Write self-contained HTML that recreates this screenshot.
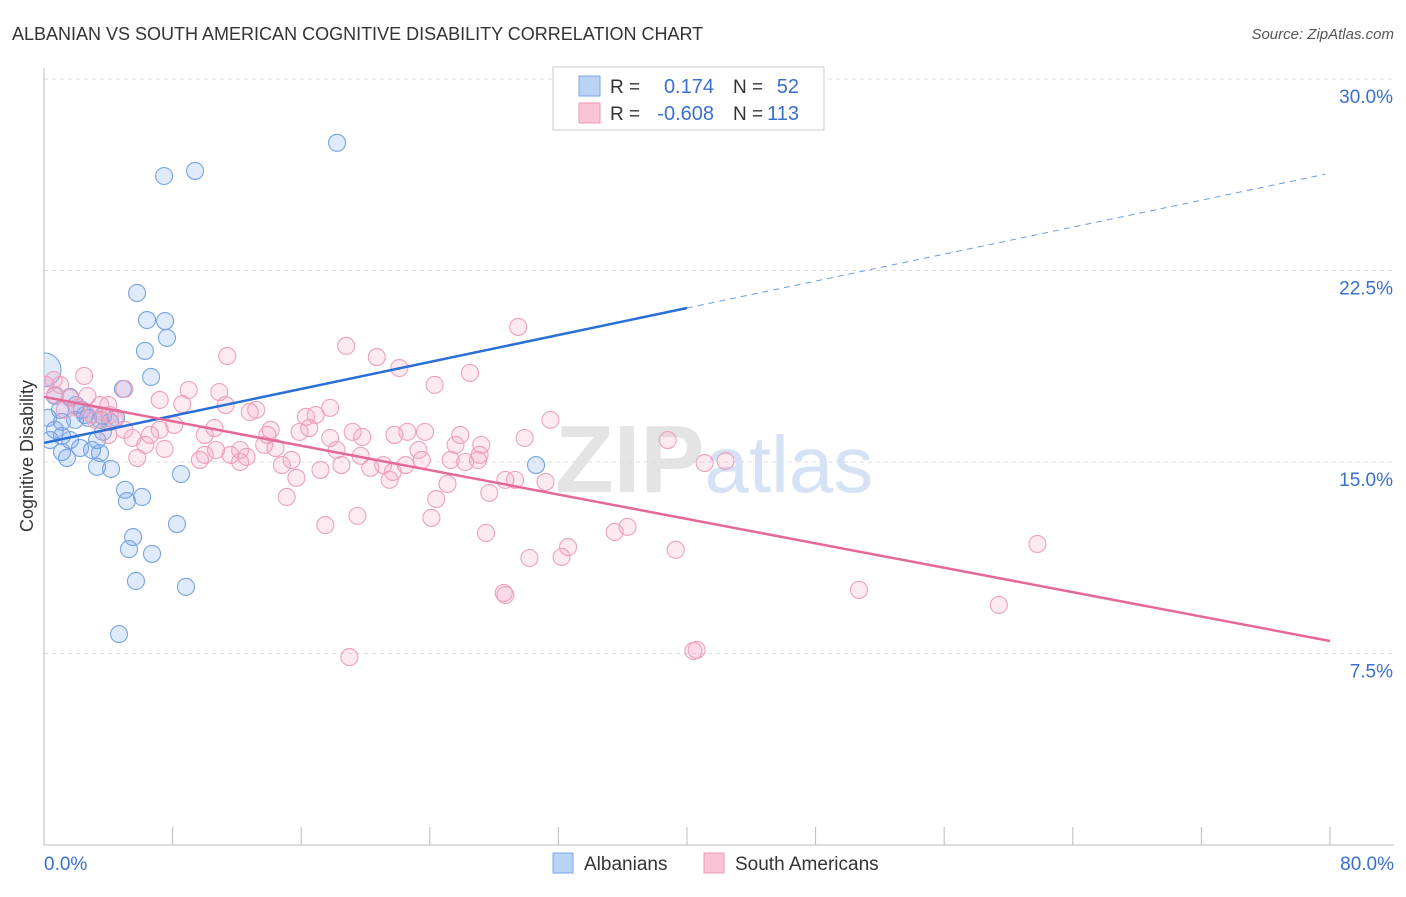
<!DOCTYPE html>
<html><head><meta charset="utf-8">
<style>
body{margin:0;background:#fff;font-family:"Liberation Sans",sans-serif;}
svg text{font-family:"Liberation Sans",sans-serif;}
</style></head>
<body>
<svg id="chart" width="1406" height="892" xmlns="http://www.w3.org/2000/svg">
<defs><clipPath id="plotclip"><rect x="44" y="60" width="1360" height="785"/></clipPath></defs>
<text x="12" y="40" font-size="18" fill="#333">ALBANIAN VS SOUTH AMERICAN COGNITIVE DISABILITY CORRELATION CHART</text>
<text x="1394" y="39" font-size="15" fill="#555" font-style="italic" text-anchor="end">Source: ZipAtlas.com</text>
<text x="555" y="492" font-size="96" fill="#e4e4e4" font-family="Liberation Serif" font-weight="bold">ZIP<tspan fill="#d5e2f5" font-family="Liberation Sans" font-weight="normal" font-size="80">atlas</tspan></text>
<g id="grid"></g>
<g id="axes"></g>
<g id="marks" clip-path="url(#plotclip)"></g>
<text transform="translate(33,456) rotate(-90)" font-size="18" fill="#333" text-anchor="middle">Cognitive Disability</text>
<g>
<rect x="553" y="67" width="271" height="63" fill="#fff" stroke="#ccc"/>
<rect x="579" y="76" width="21" height="20" fill="#b9d3f5" stroke="#7aa6e6"/>
<rect x="579" y="103" width="21" height="20" fill="#f9c4d5" stroke="#ee9ab6"/>
<text x="610" y="93" font-size="19" fill="#333">R =</text>
<text x="714" y="93" font-size="20" fill="#3a6fd0" text-anchor="end">0.174</text>
<text x="733" y="93" font-size="19" fill="#333">N =</text>
<text x="799" y="93" font-size="20" fill="#3a6fd0" text-anchor="end">52</text>
<text x="610" y="120" font-size="19" fill="#333">R =</text>
<text x="714" y="120" font-size="20" fill="#3a6fd0" text-anchor="end">-0.608</text>
<text x="733" y="120" font-size="19" fill="#333">N =</text>
<text x="799" y="120" font-size="20" fill="#3a6fd0" text-anchor="end">113</text>
</g>
<g>
<rect x="553" y="853" width="20" height="20" fill="#b9d3f5" stroke="#7aa6e6"/>
<text x="584" y="870" font-size="19" fill="#333">Albanians</text>
<rect x="704" y="853" width="20" height="20" fill="#f9c4d5" stroke="#ee9ab6"/>
<text x="735" y="870" font-size="19" fill="#333">South Americans</text>
</g>
</svg>
<script>
const xTicks=[0,10,20,30,40,50,60,70,80];
const yTicks=[7.5,15,22.5,30];
const yTickLabels=["7.5%","15.0%","22.5%","30.0%"];
const blueX=[18.23,7.47,9.40,5.79,6.41,7.53,7.65,6.28,6.66,4.91,0,0.68,1.62,1.0,0.25,2.36,2.74,1.12,1.93,3.67,4.48,4.11,0.68,1.12,1.62,3.30,3.67,2.24,1.12,1.43,2.99,3.48,3.30,4.17,8.52,5.04,6.10,5.16,5.54,5.29,6.72,8.27,5.72,8.83,4.67,30.61,3.48,2.55,0.37,1.99];
const blueY=[27.50,26.20,26.40,21.62,20.56,20.52,19.86,19.35,18.33,17.86,18.61,17.59,17.55,17.04,16.73,17.04,16.73,16.57,16.65,16.80,16.73,16.57,16.26,16.02,15.86,15.86,16.18,15.55,15.39,15.16,15.47,15.35,14.81,14.73,14.53,13.91,13.63,13.47,12.06,11.59,11.40,12.57,10.34,10.11,8.26,14.88,16.65,16.84,15.86,17.23];
const pinkX=[29.5,18.8,11.4,20.7,26.5,22.1,24.3,2.5,9.0,5.0,1.0,0.1,0.7,1.6,3.5,3.0,4.4,8.6,11.3,13.2,12.8,17.8,16.9,16.3,19.2,19.8,22.6,23.7,21.8,25.9,31.5,29.9,25.6,27.2,38.8,16.5,15.9,14.1,13.9,8.1,7.2,6.6,5.5,6.3,10.0,10.6,10.0,9.7,11.6,12.2,12.6,14.4,15.4,14.8,17.2,18.5,20.3,21.1,21.7,22.5,23.5,25.3,26.2,27.0,28.7,29.3,31.2,25.1,24.4,27.7,15.1,15.7,17.5,19.5,24.1,27.5,30.2,32.6,32.2,35.5,36.3,39.3,41.1,42.4,28.6,28.7,19.0,40.4,40.6,50.7,59.4,61.8,5.8,7.5,4.0,2.1,1.3,3.2,5.0,10.7,12.2,13.7,18.2,19.7,23.3,27.1,7.2,4.1,2.7,0.6,17.8,21.5,10.9,4.0];
const pinkY=[20.29,19.55,19.15,19.11,18.49,18.68,18.02,18.37,17.82,17.86,18.02,18.02,17.63,17.51,17.23,16.84,16.65,17.27,17.23,17.04,16.96,17.12,16.84,16.77,16.18,15.98,16.18,16.18,16.06,16.06,16.65,15.94,15.67,15.67,15.86,16.33,16.18,16.26,16.06,16.45,16.26,16.06,15.94,15.67,16.06,16.33,15.28,15.08,15.28,15.47,15.20,15.55,15.08,14.88,14.69,14.88,14.77,14.88,14.61,14.88,15.08,15.08,15.00,15.08,14.30,14.30,14.22,14.14,13.55,13.79,13.63,14.38,12.53,12.89,12.81,12.22,11.24,11.67,11.28,12.26,12.46,11.56,14.96,15.04,9.87,9.79,7.36,7.60,7.64,9.99,9.40,11.79,15.16,15.51,17.23,17.12,17.04,16.65,16.26,15.47,15.00,15.67,15.47,15.24,15.47,15.28,17.43,16.84,17.59,18.21,15.94,14.30,17.74,16.06];
const blueTrend=[15.75,0.132]; // intercept, slope
const pinkTrend=[17.55,-0.1195];
const blueSolidEnd=40, blueDashEnd=79.7;

const NS="http://www.w3.org/2000/svg";
const X0=44,X1=1330,Y0=845,Y30=79;
const sx=v=>X0+(v/80)*(X1-X0);
const sy=v=>Y0-(v/30)*(Y0-Y30);
function mk(tag,attrs,parent){const e=document.createElementNS(NS,tag);for(const k in attrs)e.setAttribute(k,attrs[k]);parent.appendChild(e);return e;}
const grid=document.getElementById('grid'),axes=document.getElementById('axes'),marks=document.getElementById('marks');
yTicks.forEach((t,i)=>{
  const l=mk('line',{x1:X0,x2:1394,y1:sy(t),y2:sy(t),stroke:'#ddd','stroke-dasharray':'4,4'},grid);
  
  
  const tx=mk('text',{x:1393,y:sy(t)+24,'font-size':19,fill:'#3a6fd0','text-anchor':'end'},axes);
  tx.textContent=yTickLabels[i];
  
  
});
const ya=mk('line',{x1:X0,x2:X0,y1:68,y2:Y0,stroke:'#bbb'},axes);


const xa=mk('line',{x1:X0,x2:1394,y1:Y0,y2:Y0,stroke:'#bbb'},axes);


for(let v=0;v<=80;v+=8){
  const t=mk('line',{x1:sx(v),x2:sx(v),y1:Y0,y2:Y0-18,stroke:'#bbb'},axes);
  
  
}
[[0,'0.0%','start',44],[80,'80.0%','end',1394]].forEach(a=>{
  const t=mk('text',{x:a[3],y:870,'font-size':19,fill:'#3a6fd0','text-anchor':a[2]},axes);
  t.textContent=a[1];
  
  
});
blueX.forEach((x,i)=>{
  const c=mk('circle',{cx:sx(x),cy:sy(blueY[i]),r:(x===0&&blueY[i]>18.5)?17:8.5,fill:'rgba(110,160,235,0.22)',stroke:'#78a3e2','stroke-width':1.1},marks);
  
  
});
pinkX.forEach((x,i)=>{
  const c=mk('circle',{cx:sx(x),cy:sy(pinkY[i]),r:8.5,fill:'rgba(245,160,190,0.22)',stroke:'#eea0bb','stroke-width':1.1},marks);
  
  
});
const bl=mk('line',{x1:sx(0),y1:sy(blueTrend[0]),x2:sx(blueSolidEnd),y2:sy(blueTrend[0]+blueTrend[1]*blueSolidEnd),stroke:'#2a6fd6','stroke-width':2.5},marks);


const bd=mk('line',{x1:sx(blueSolidEnd),y1:sy(blueTrend[0]+blueTrend[1]*blueSolidEnd),x2:sx(blueDashEnd),y2:sy(blueTrend[0]+blueTrend[1]*blueDashEnd),stroke:'#6c9be0','stroke-width':1,'stroke-dasharray':'6,5'},marks);


const pl=mk('line',{x1:sx(0),y1:sy(pinkTrend[0]),x2:sx(80),y2:sy(pinkTrend[0]+pinkTrend[1]*80),stroke:'#e46898','stroke-width':2.5},marks);


</script>
</body></html>
